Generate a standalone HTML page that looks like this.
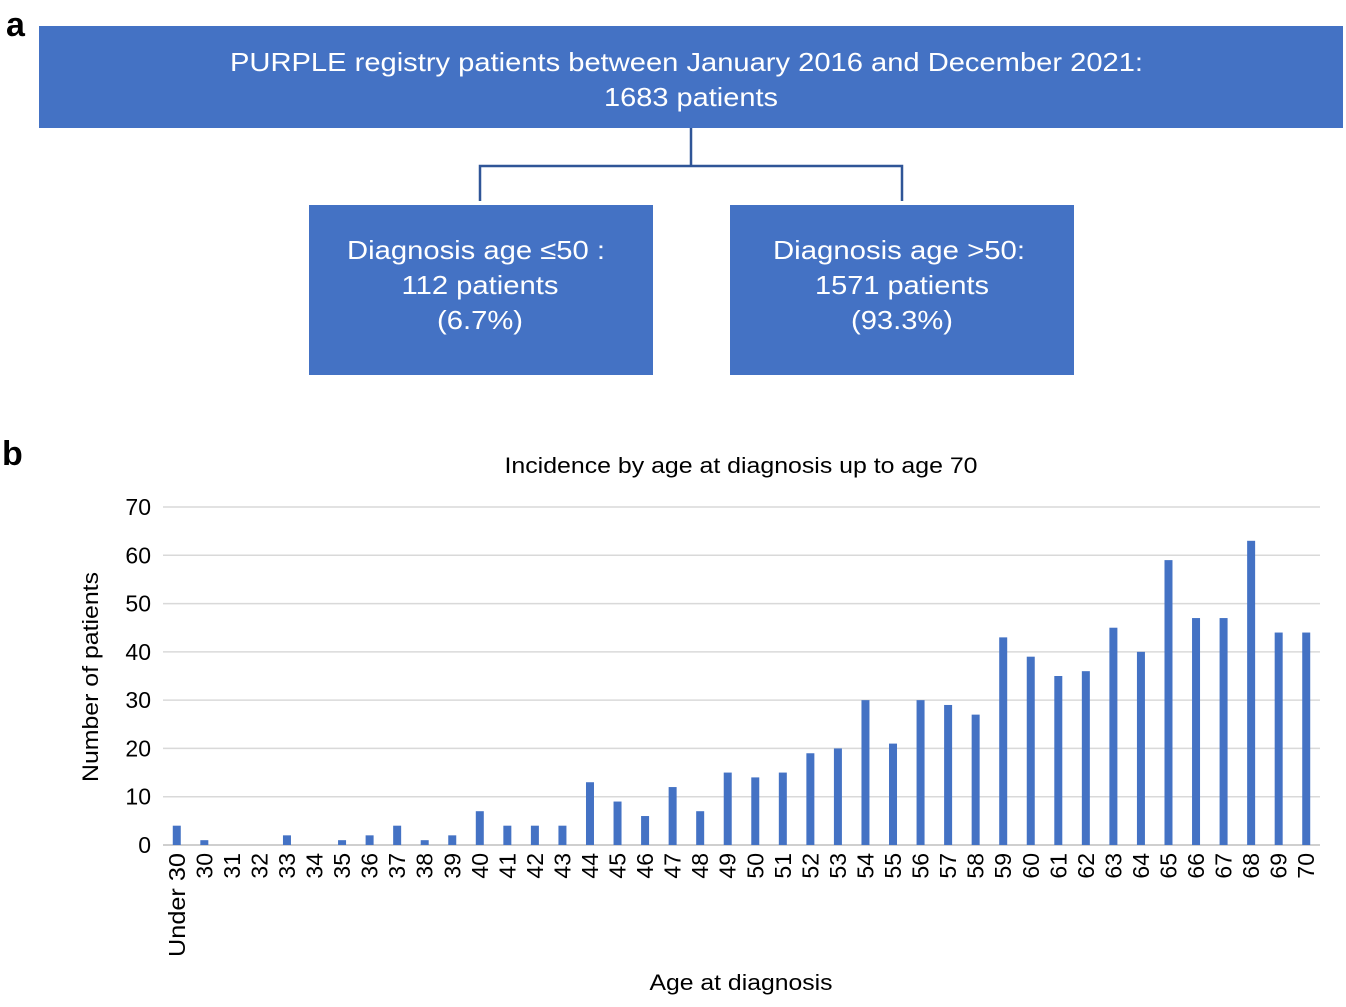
<!DOCTYPE html>
<html><head><meta charset="utf-8"><style>
body{margin:0;background:#fff;font-family:"Liberation Sans",Arial,sans-serif;}
svg text{font-family:"Liberation Sans",Arial,sans-serif;}
</style></head><body>
<svg id="svg" width="1346" height="1002" viewBox="0 0 1346 1002" xmlns="http://www.w3.org/2000/svg">
<text x="6" y="36" font-size="34" font-weight="bold">a</text>
<rect x="39" y="26" width="1304" height="102" fill="#4472C4"/>
<text x="230" y="71" font-size="26" fill="#fff" textLength="913" lengthAdjust="spacingAndGlyphs">PURPLE registry patients between January 2016 and December 2021:</text>
<text x="691" y="106" font-size="26" fill="#fff" text-anchor="middle" textLength="174" lengthAdjust="spacingAndGlyphs">1683 patients</text>
<path d="M691 128 V166 M480 201 V166 H902 V201" stroke="#2F5597" stroke-width="2.5" fill="none"/>
<rect x="309" y="205" width="344" height="170" fill="#4472C4"/>
<text x="476" y="259" font-size="26" fill="#fff" text-anchor="middle" textLength="258" lengthAdjust="spacingAndGlyphs">Diagnosis age ≤50 :</text>
<text x="480" y="294" font-size="26" fill="#fff" text-anchor="middle" textLength="157" lengthAdjust="spacingAndGlyphs">112 patients</text>
<text x="480" y="329" font-size="26" fill="#fff" text-anchor="middle" textLength="86" lengthAdjust="spacingAndGlyphs">(6.7%)</text>
<rect x="730" y="205" width="344" height="170" fill="#4472C4"/>
<text x="899" y="259" font-size="26" fill="#fff" text-anchor="middle" textLength="252" lengthAdjust="spacingAndGlyphs">Diagnosis age &gt;50:</text>
<text x="902" y="294" font-size="26" fill="#fff" text-anchor="middle" textLength="174" lengthAdjust="spacingAndGlyphs">1571 patients</text>
<text x="902" y="329" font-size="26" fill="#fff" text-anchor="middle" textLength="102" lengthAdjust="spacingAndGlyphs">(93.3%)</text>
<text x="2" y="465" font-size="34" font-weight="bold">b</text>
<text x="741" y="473" font-size="22" text-anchor="middle" textLength="473" lengthAdjust="spacingAndGlyphs">Incidence by age at diagnosis up to age 70</text>
<text x="0" y="0" font-size="22" text-anchor="middle" textLength="210" lengthAdjust="spacingAndGlyphs" transform="translate(98,677) rotate(-90)">Number of patients</text>
<text x="741" y="990" font-size="22" text-anchor="middle" textLength="183" lengthAdjust="spacingAndGlyphs">Age at diagnosis</text>
<g id="grid"></g><g id="bars"></g><g id="xt"></g>
</svg>
<script>
const categories=["Under 30","30","31","32","33","34","35","36","37","38","39","40","41","42","43","44","45","46","47","48","49","50","51","52","53","54","55","56","57","58","59","60","61","62","63","64","65","66","67","68","69","70"];
const values=[4,1,0,0,2,0,1,2,4,1,2,7,4,4,4,13,9,6,12,7,15,14,15,19,20,30,21,30,29,27,43,39,35,36,45,40,59,47,47,63,44,44];
const yTicks=[0,10,20,30,40,50,60,70];
const NS="http://www.w3.org/2000/svg";
const x0=163,x1=1320,yb=845,yt=507,ymax=70;
const band=(x1-x0)/categories.length;
const xs=i=>x0+band*(i+0.5);
const ys=v=>yb-(v/ymax)*(yb-yt);
function mk(t,a,p){const e=document.createElementNS(NS,t);for(const k in a)e.setAttribute(k,a[k]);p.appendChild(e);return e;}
const g=document.getElementById('grid');
yTicks.forEach(v=>{
 const l=mk('line',{x1:x0,x2:x1,y1:ys(v),y2:ys(v),stroke:v===0?'#bfbfbf':'#d9d9d9','stroke-width':1.5},g);
 
 
 const t=mk('text',{x:151,y:ys(v)+8,'font-size':23,'text-anchor':'end'},g);
 t.textContent=v;
 
 
});
const b=document.getElementById('bars'),xt=document.getElementById('xt');
categories.forEach((c,i)=>{
 const r=mk('rect',{x:xs(i)-4,y:ys(values[i]),width:8,height:yb-ys(values[i]),fill:'#4472C4'},b);
 
 
 const t=mk('text',{x:0,y:0,'font-size':23,'text-anchor':'end',transform:`translate(${xs(i)+8},853) rotate(-90)`},xt);
 if(i===0){t.setAttribute('textLength','104');t.setAttribute('lengthAdjust','spacingAndGlyphs');}
 t.textContent=c;
 
 
});
</script>
</body></html>
